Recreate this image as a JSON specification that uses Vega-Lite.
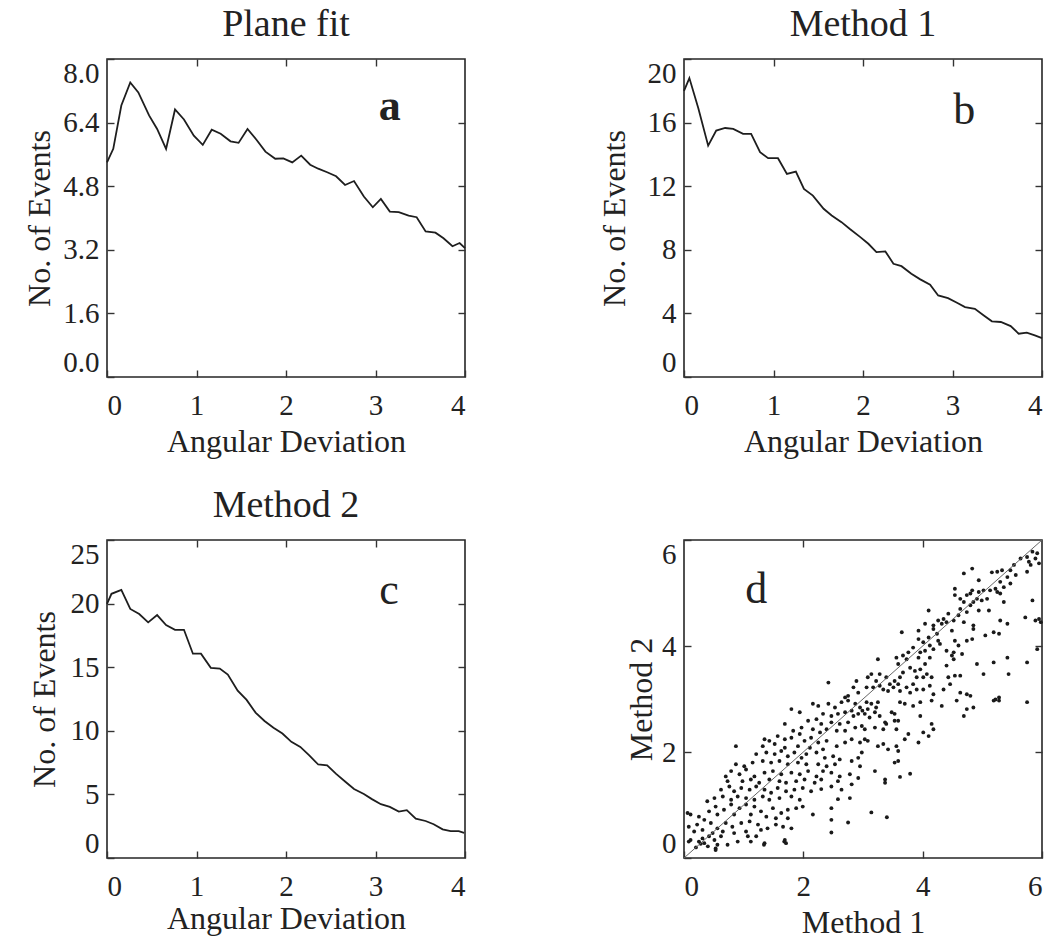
{
  "$schema": "https://vega.github.io/schema/vega-lite/v6.json",
  "padding": {"left": 22, "top": 5, "right": 2, "bottom": 0},
  "background": "white",
  "config": {
    "font": "Liberation Serif",
    "view": {"stroke": "#262626", "strokeWidth": 1.6},
    "axis": {
      "domain": false, "grid": false,
      "tickSize": -7, "tickWidth": 1.4, "tickColor": "#333333",
      "labelFont": "Liberation Serif", "titleFont": "Liberation Serif",
      "labelFontSize": 29, "titleFontSize": 32,
      "labelColor": "#222222", "titleColor": "#222222", "titleFontWeight": "normal"
    },
    "axisX": {"labelPadding": 21, "titleBaseline": "alphabetic"},
    "axisY": {"labelPadding": 15, "labelFlush": true, "titleBaseline": "alphabetic"},
    "title": {"font": "Liberation Serif", "fontSize": 38, "fontWeight": "normal", "color": "#222222", "baseline": "alphabetic", "offset": 14}
  },
  "columns": 2,
  "bounds": "flush",
  "spacing": {"row": 163, "column": 219},
  "concat": [
    {
      "width": 358, "height": 318,
      "title": {"text": "Plane fit"},
      "data": {"values": [
        {"deviation": 0, "events": 5.40}, {"deviation": 0.07, "events": 5.74}, {"deviation": 0.16, "events": 6.83},
        {"deviation": 0.26, "events": 7.41}, {"deviation": 0.35, "events": 7.16}, {"deviation": 0.47, "events": 6.58},
        {"deviation": 0.56, "events": 6.24}, {"deviation": 0.66, "events": 5.74}, {"deviation": 0.76, "events": 6.73},
        {"deviation": 0.86, "events": 6.48}, {"deviation": 0.97, "events": 6.07}, {"deviation": 1.07, "events": 5.84},
        {"deviation": 1.17, "events": 6.22}, {"deviation": 1.27, "events": 6.12}, {"deviation": 1.38, "events": 5.93},
        {"deviation": 1.47, "events": 5.89}, {"deviation": 1.57, "events": 6.24}, {"deviation": 1.67, "events": 5.97},
        {"deviation": 1.77, "events": 5.67}, {"deviation": 1.88, "events": 5.49}, {"deviation": 1.97, "events": 5.50},
        {"deviation": 2.07, "events": 5.40}, {"deviation": 2.17, "events": 5.57}, {"deviation": 2.27, "events": 5.34},
        {"deviation": 2.36, "events": 5.24}, {"deviation": 2.46, "events": 5.15}, {"deviation": 2.56, "events": 5.05},
        {"deviation": 2.66, "events": 4.83}, {"deviation": 2.76, "events": 4.93}, {"deviation": 2.87, "events": 4.54},
        {"deviation": 2.97, "events": 4.27}, {"deviation": 3.06, "events": 4.48}, {"deviation": 3.16, "events": 4.16},
        {"deviation": 3.26, "events": 4.15}, {"deviation": 3.37, "events": 4.06}, {"deviation": 3.46, "events": 4.02},
        {"deviation": 3.56, "events": 3.66}, {"deviation": 3.67, "events": 3.63}, {"deviation": 3.76, "events": 3.49},
        {"deviation": 3.86, "events": 3.29}, {"deviation": 3.94, "events": 3.37}, {"deviation": 4.0, "events": 3.24}
      ]},
      "layer": [
        {
          "mark": {"type": "line", "color": "#1e1e1e", "strokeWidth": 1.8},
          "encoding": {
            "x": {"field": "deviation", "type": "quantitative", "scale": {"domain": [0, 4], "nice": false, "zero": false},
                  "axis": {"values": [0, 1, 2, 3, 4], "title": "Angular Deviation", "titleX": 179, "titleY": 74}},
            "y": {"field": "events", "type": "quantitative", "scale": {"domain": [0, 8], "nice": false},
                  "axis": {"values": [0, 1.6, 3.2, 4.8, 6.4, 8], "format": ".1f", "title": "No. of Events", "titleX": -58, "titleY": 159}}
          }
        },
        {
          "mark": {"type": "line", "opacity": 0},
          "encoding": {
            "x": {"field": "deviation", "type": "quantitative", "axis": {"orient": "top", "values": [1, 2, 3], "labels": false, "title": null}},
            "y": {"field": "events", "type": "quantitative", "axis": {"orient": "right", "values": [1.6, 3.2, 4.8, 6.4], "labels": false, "title": null}}
          }
        },
        {
          "data": {"values": [{"label": "a"}]},
          "mark": {"type": "text", "font": "Liberation Serif", "fontSize": 44, "fontWeight": "bold", "align": "center", "baseline": "alphabetic", "color": "#222222"},
          "encoding": {
            "x": {"datum": 3.16, "type": "quantitative", "axis": null},
            "y": {"datum": 6.47, "type": "quantitative", "axis": null},
            "text": {"field": "label"}
          }
        }
      ],
      "resolve": {"axis": {"x": "independent", "y": "independent"}}
    },
    {
      "width": 358, "height": 318,
      "title": {"text": "Method 1"},
      "data": {"values": [
        {"deviation": 0, "events": 18.0}, {"deviation": 0.06, "events": 18.8}, {"deviation": 0.16, "events": 16.9},
        {"deviation": 0.27, "events": 14.55}, {"deviation": 0.36, "events": 15.5}, {"deviation": 0.46, "events": 15.66},
        {"deviation": 0.55, "events": 15.6}, {"deviation": 0.66, "events": 15.29}, {"deviation": 0.75, "events": 15.29},
        {"deviation": 0.85, "events": 14.14}, {"deviation": 0.94, "events": 13.76}, {"deviation": 1.05, "events": 13.76},
        {"deviation": 1.15, "events": 12.77}, {"deviation": 1.25, "events": 12.92}, {"deviation": 1.34, "events": 11.83},
        {"deviation": 1.44, "events": 11.41}, {"deviation": 1.56, "events": 10.58}, {"deviation": 1.65, "events": 10.16},
        {"deviation": 1.76, "events": 9.74}, {"deviation": 1.85, "events": 9.32}, {"deviation": 1.97, "events": 8.80},
        {"deviation": 2.06, "events": 8.38}, {"deviation": 2.15, "events": 7.85}, {"deviation": 2.25, "events": 7.90},
        {"deviation": 2.34, "events": 7.12}, {"deviation": 2.43, "events": 6.97}, {"deviation": 2.54, "events": 6.49},
        {"deviation": 2.64, "events": 6.14}, {"deviation": 2.75, "events": 5.80}, {"deviation": 2.84, "events": 5.13},
        {"deviation": 2.95, "events": 4.96}, {"deviation": 3.05, "events": 4.67}, {"deviation": 3.14, "events": 4.40},
        {"deviation": 3.25, "events": 4.29}, {"deviation": 3.35, "events": 3.87}, {"deviation": 3.44, "events": 3.50},
        {"deviation": 3.54, "events": 3.46}, {"deviation": 3.65, "events": 3.20}, {"deviation": 3.74, "events": 2.72},
        {"deviation": 3.83, "events": 2.79}, {"deviation": 3.92, "events": 2.62}, {"deviation": 4.0, "events": 2.45}
      ]},
      "layer": [
        {
          "mark": {"type": "line", "color": "#1e1e1e", "strokeWidth": 1.8},
          "encoding": {
            "x": {"field": "deviation", "type": "quantitative", "scale": {"domain": [0, 4], "nice": false, "zero": false},
                  "axis": {"values": [0, 1, 2, 3, 4], "title": "Angular Deviation", "titleX": 179, "titleY": 74}},
            "y": {"field": "events", "type": "quantitative", "scale": {"domain": [0, 20], "nice": false},
                  "axis": {"values": [0, 4, 8, 12, 16, 20], "title": "No. of Events", "titleX": -60, "titleY": 159}}
          }
        },
        {
          "mark": {"type": "line", "opacity": 0},
          "encoding": {
            "x": {"field": "deviation", "type": "quantitative", "axis": {"orient": "top", "values": [1, 2, 3], "labels": false, "title": null}},
            "y": {"field": "events", "type": "quantitative", "axis": {"orient": "right", "values": [4, 8, 12, 16], "labels": false, "title": null}}
          }
        },
        {
          "data": {"values": [{"label": "b"}]},
          "mark": {"type": "text", "font": "Liberation Serif", "fontSize": 44, "align": "center", "baseline": "alphabetic", "color": "#222222"},
          "encoding": {
            "x": {"datum": 3.13, "type": "quantitative", "axis": null},
            "y": {"datum": 15.9, "type": "quantitative", "axis": null},
            "text": {"field": "label"}
          }
        }
      ],
      "resolve": {"axis": {"x": "independent", "y": "independent"}}
    },
    {
      "width": 358, "height": 318,
      "title": {"text": "Method 2"},
      "data": {"values": [
        {"deviation": 0, "events": 19.97}, {"deviation": 0.05, "events": 20.77}, {"deviation": 0.16, "events": 21.08},
        {"deviation": 0.26, "events": 19.58}, {"deviation": 0.36, "events": 19.18}, {"deviation": 0.46, "events": 18.52},
        {"deviation": 0.56, "events": 19.10}, {"deviation": 0.66, "events": 18.31}, {"deviation": 0.76, "events": 17.94},
        {"deviation": 0.86, "events": 17.94}, {"deviation": 0.96, "events": 16.06}, {"deviation": 1.05, "events": 16.06},
        {"deviation": 1.16, "events": 14.95}, {"deviation": 1.26, "events": 14.89}, {"deviation": 1.35, "events": 14.42},
        {"deviation": 1.46, "events": 13.15}, {"deviation": 1.56, "events": 12.43}, {"deviation": 1.66, "events": 11.43},
        {"deviation": 1.76, "events": 10.77}, {"deviation": 1.86, "events": 10.24}, {"deviation": 1.96, "events": 9.79},
        {"deviation": 2.06, "events": 9.13}, {"deviation": 2.16, "events": 8.73}, {"deviation": 2.26, "events": 8.07},
        {"deviation": 2.36, "events": 7.35}, {"deviation": 2.46, "events": 7.28}, {"deviation": 2.56, "events": 6.61},
        {"deviation": 2.66, "events": 6.01}, {"deviation": 2.76, "events": 5.42}, {"deviation": 2.87, "events": 5.03},
        {"deviation": 2.96, "events": 4.63}, {"deviation": 3.06, "events": 4.23}, {"deviation": 3.16, "events": 4.02},
        {"deviation": 3.26, "events": 3.65}, {"deviation": 3.35, "events": 3.76}, {"deviation": 3.45, "events": 3.10},
        {"deviation": 3.56, "events": 2.91}, {"deviation": 3.65, "events": 2.65}, {"deviation": 3.75, "events": 2.25},
        {"deviation": 3.84, "events": 2.12}, {"deviation": 3.93, "events": 2.12}, {"deviation": 3.99, "events": 1.98}
      ]},
      "layer": [
        {
          "mark": {"type": "line", "color": "#1e1e1e", "strokeWidth": 1.8},
          "encoding": {
            "x": {"field": "deviation", "type": "quantitative", "scale": {"domain": [0, 4], "nice": false, "zero": false},
                  "axis": {"values": [0, 1, 2, 3, 4], "title": "Angular Deviation", "titleX": 179, "titleY": 70}},
            "y": {"field": "events", "type": "quantitative", "scale": {"domain": [0, 25], "nice": false},
                  "axis": {"values": [0, 5, 10, 15, 20, 25], "title": "No. of Events", "titleX": -53, "titleY": 159}}
          }
        },
        {
          "mark": {"type": "line", "opacity": 0},
          "encoding": {
            "x": {"field": "deviation", "type": "quantitative", "axis": {"orient": "top", "values": [1, 2, 3], "labels": false, "title": null}},
            "y": {"field": "events", "type": "quantitative", "axis": {"orient": "right", "values": [5, 10, 15, 20], "labels": false, "title": null}}
          }
        },
        {
          "data": {"values": [{"label": "c"}]},
          "mark": {"type": "text", "font": "Liberation Serif", "fontSize": 44, "align": "center", "baseline": "alphabetic", "color": "#222222"},
          "encoding": {
            "x": {"datum": 3.15, "type": "quantitative", "axis": null},
            "y": {"datum": 19.95, "type": "quantitative", "axis": null},
            "text": {"field": "label"}
          }
        }
      ],
      "resolve": {"axis": {"x": "independent", "y": "independent"}}
    },
    {
      "width": 358, "height": 318,
      "data": {"values": [
        {"m1":5.84,"m2":5.78},{"m1":5.92,"m2":5.75},{"m1":5.75,"m2":5.68},{"m1":5.78,"m2":5.59},{"m1":5.64,"m2":5.65},{"m1":5.53,"m2":5.53},{"m1":5.47,"m2":5.43},{"m1":5.56,"m2":5.34},{"m1":5.42,"m2":5.30},{"m1":5.33,"m2":5.43},
        {"m1":5.25,"m2":5.40},{"m1":5.16,"m2":5.39},{"m1":5.30,"m2":5.21},{"m1":5.47,"m2":5.18},{"m1":5.36,"m2":5.11},{"m1":5.22,"m2":5.08},{"m1":5.13,"m2":5.05},{"m1":5.02,"m2":5.05},{"m1":4.94,"m2":5.24},{"m1":4.83,"m2":5.46},
        {"m1":4.69,"m2":5.37},{"m1":5.75,"m2":5.40},{"m1":5.81,"m2":5.53},{"m1":5.89,"m2":5.65},{"m1":5.95,"m2":5.56},{"m1":5.84,"m2":4.86},{"m1":5.72,"m2":4.54},{"m1":5.89,"m2":4.48},{"m1":5.95,"m2":4.51},{"m1":5.98,"m2":4.45},
        {"m1":5.92,"m2":3.94},{"m1":5.42,"m2":3.78},{"m1":5.75,"m2":3.69},{"m1":5.44,"m2":3.47},{"m1":5.19,"m2":3.69},{"m1":5.02,"m2":3.47},{"m1":4.91,"m2":3.66},{"m1":5.28,"m2":3.03},{"m1":5.22,"m2":2.99},{"m1":4.91,"m2":4.89},
        {"m1":4.80,"m2":4.99},{"m1":4.54,"m2":5.08},{"m1":4.54,"m2":4.96},{"m1":4.69,"m2":4.83},{"m1":4.80,"m2":4.77},{"m1":4.85,"m2":4.83},{"m1":4.94,"m2":4.67},{"m1":4.74,"m2":4.64},{"m1":4.63,"m2":4.70},{"m1":5.11,"m2":4.67},
        {"m1":5.36,"m2":4.83},{"m1":5.30,"m2":4.48},{"m1":5.42,"m2":4.42},{"m1":5.19,"m2":4.26},{"m1":5.28,"m2":4.23},{"m1":5.05,"m2":4.20},{"m1":4.85,"m2":4.39},{"m1":4.85,"m2":4.32},{"m1":4.83,"m2":4.13},{"m1":4.74,"m2":4.10},
        {"m1":4.49,"m2":4.29},{"m1":4.40,"m2":4.45},{"m1":4.32,"m2":4.42},{"m1":4.52,"m2":4.48},{"m1":4.18,"m2":4.39},{"m1":4.10,"m2":4.16},{"m1":4.18,"m2":4.32},{"m1":4.24,"m2":4.23},{"m1":4.26,"m2":4.10},{"m1":4.12,"m2":4.01},
        {"m1":4.01,"m2":4.07},{"m1":3.93,"m2":4.13},{"m1":3.96,"m2":3.88},{"m1":3.84,"m2":3.97},{"m1":3.76,"m2":3.88},{"m1":3.67,"m2":3.82},{"m1":3.56,"m2":3.78},{"m1":3.59,"m2":3.66},{"m1":3.73,"m2":3.75},{"m1":3.93,"m2":3.78},
        {"m1":4.04,"m2":3.91},{"m1":4.18,"m2":3.94},{"m1":4.29,"m2":4.04},{"m1":4.40,"m2":3.91},{"m1":4.54,"m2":4.10},{"m1":4.60,"m2":4.01},{"m1":4.52,"m2":3.88},{"m1":4.49,"m2":3.82},{"m1":4.66,"m2":3.85},{"m1":4.52,"m2":3.75},
        {"m1":4.40,"m2":3.63},{"m1":4.12,"m2":3.78},{"m1":4.04,"m2":3.66},{"m1":3.96,"m2":3.56},{"m1":3.87,"m2":3.53},{"m1":3.79,"m2":3.59},{"m1":3.67,"m2":3.50},{"m1":3.62,"m2":3.41},{"m1":3.53,"m2":3.34},{"m1":3.45,"m2":3.28},
        {"m1":3.39,"m2":3.41},{"m1":3.28,"m2":3.47},{"m1":3.22,"m2":3.34},{"m1":3.14,"m2":3.47},{"m1":3.08,"m2":3.41},{"m1":3.06,"m2":3.22},{"m1":3.17,"m2":3.22},{"m1":3.28,"m2":3.25},{"m1":3.34,"m2":3.18},{"m1":3.42,"m2":3.15},
        {"m1":3.51,"m2":3.22},{"m1":3.59,"m2":3.28},{"m1":3.62,"m2":3.15},{"m1":3.73,"m2":3.22},{"m1":3.84,"m2":3.28},{"m1":3.90,"m2":3.41},{"m1":4.01,"m2":3.41},{"m1":4.07,"m2":3.47},{"m1":4.15,"m2":3.41},{"m1":4.12,"m2":3.25},
        {"m1":4.01,"m2":3.18},{"m1":3.90,"m2":3.18},{"m1":3.79,"m2":3.12},{"m1":4.18,"m2":3.09},{"m1":4.43,"m2":3.41},{"m1":4.54,"m2":3.44},{"m1":4.63,"m2":3.44},{"m1":4.46,"m2":3.28},{"m1":4.35,"m2":3.18},{"m1":4.63,"m2":3.12},
        {"m1":4.74,"m2":3.09},{"m1":4.80,"m2":3.06},{"m1":3.25,"m2":3.75},{"m1":3.65,"m2":4.26},{"m1":3.93,"m2":4.29},{"m1":4.10,"m2":4.67},{"m1":4.04,"m2":4.42},{"m1":4.26,"m2":4.48},{"m1":4.35,"m2":4.51},{"m1":4.43,"m2":4.61},
        {"m1":4.60,"m2":4.58},{"m1":4.69,"m2":4.45},{"m1":4.63,"m2":4.89},{"m1":4.74,"m2":4.96},{"m1":4.83,"m2":5.05},{"m1":4.94,"m2":5.02},{"m1":4.99,"m2":4.86},{"m1":5.08,"m2":4.89},{"m1":5.25,"m2":5.02},{"m1":5.30,"m2":4.99},
        {"m1":2.16,"m2":2.91},{"m1":2.25,"m2":2.87},{"m1":2.42,"m2":2.91},{"m1":2.53,"m2":2.84},{"m1":2.64,"m2":2.94},{"m1":2.75,"m2":2.97},{"m1":2.87,"m2":2.91},{"m1":2.95,"m2":2.84},{"m1":2.81,"m2":2.78},{"m1":2.70,"m2":2.75},
        {"m1":2.58,"m2":2.72},{"m1":2.47,"m2":2.68},{"m1":2.33,"m2":2.72},{"m1":1.80,"m2":2.81},{"m1":1.94,"m2":2.75},{"m1":2.84,"m2":2.68},{"m1":2.92,"m2":2.72},{"m1":2.99,"m2":2.78},{"m1":2.08,"m2":2.59},{"m1":2.22,"m2":2.62},
        {"m1":2.30,"m2":2.53},{"m1":2.47,"m2":2.56},{"m1":2.61,"m2":2.53},{"m1":2.75,"m2":2.56},{"m1":2.87,"m2":2.46},{"m1":2.98,"m2":2.49},{"m1":2.70,"m2":2.40},{"m1":2.56,"m2":2.40},{"m1":2.39,"m2":2.43},{"m1":2.28,"m2":2.37},
        {"m1":2.16,"m2":2.43},{"m1":1.97,"m2":2.46},{"m1":1.83,"m2":2.40},{"m1":1.69,"m2":2.53},{"m1":1.57,"m2":2.30},{"m1":1.69,"m2":2.24},{"m1":1.80,"m2":2.27},{"m1":1.94,"m2":2.34},{"m1":2.02,"m2":2.21},{"m1":2.13,"m2":2.27},
        {"m1":2.25,"m2":2.18},{"m1":2.39,"m2":2.21},{"m1":2.56,"m2":2.11},{"m1":2.70,"m2":2.18},{"m1":2.81,"m2":2.24},{"m1":2.95,"m2":2.18},{"m1":1.43,"m2":2.21},{"m1":1.32,"m2":2.11},{"m1":1.52,"m2":2.15},{"m1":1.35,"m2":2.24},
        {"m1":0.87,"m2":2.11},{"m1":1.69,"m2":2.08},{"m1":1.91,"m2":2.11},{"m1":2.11,"m2":2.08},{"m1":2.33,"m2":2.05},{"m1":1.21,"m2":1.96},{"m1":1.38,"m2":1.99},{"m1":1.52,"m2":1.96},{"m1":1.63,"m2":2.02},{"m1":1.74,"m2":1.92},
        {"m1":1.85,"m2":1.99},{"m1":1.97,"m2":1.89},{"m1":2.05,"m2":1.96},{"m1":2.22,"m2":1.99},{"m1":2.36,"m2":1.89},{"m1":2.50,"m2":1.92},{"m1":2.61,"m2":1.86},{"m1":2.81,"m2":1.83},{"m1":2.92,"m2":1.89},{"m1":2.98,"m2":1.99},
        {"m1":1.15,"m2":1.80},{"m1":1.32,"m2":1.83},{"m1":1.46,"m2":1.80},{"m1":1.60,"m2":1.83},{"m1":1.74,"m2":1.77},{"m1":1.91,"m2":1.80},{"m1":2.05,"m2":1.77},{"m1":2.25,"m2":1.77},{"m1":2.39,"m2":1.73},{"m1":2.53,"m2":1.77},
        {"m1":2.95,"m2":1.73},{"m1":0.87,"m2":1.77},{"m1":1.01,"m2":1.73},{"m1":0.70,"m2":1.54},{"m1":0.79,"m2":1.64},{"m1":0.93,"m2":1.58},{"m1":1.04,"m2":1.67},{"m1":1.18,"m2":1.54},{"m1":1.35,"m2":1.61},{"m1":1.49,"m2":1.64},
        {"m1":1.63,"m2":1.58},{"m1":1.80,"m2":1.61},{"m1":1.94,"m2":1.58},{"m1":2.08,"m2":1.64},{"m1":2.22,"m2":1.54},{"m1":2.33,"m2":1.64},{"m1":2.47,"m2":1.61},{"m1":2.61,"m2":1.54},{"m1":2.78,"m2":1.58},{"m1":2.92,"m2":1.51},
        {"m1":0.73,"m2":1.45},{"m1":0.98,"m2":1.45},{"m1":1.12,"m2":1.48},{"m1":1.26,"m2":1.42},{"m1":1.43,"m2":1.48},{"m1":1.60,"m2":1.45},{"m1":1.71,"m2":1.42},{"m1":1.88,"m2":1.45},{"m1":2.02,"m2":1.48},{"m1":2.19,"m2":1.42},
        {"m1":2.30,"m2":1.48},{"m1":2.58,"m2":1.45},{"m1":0.62,"m2":1.29},{"m1":0.76,"m2":1.35},{"m1":0.84,"m2":1.26},{"m1":0.96,"m2":1.32},{"m1":1.10,"m2":1.29},{"m1":1.21,"m2":1.35},{"m1":1.35,"m2":1.29},{"m1":1.46,"m2":1.23},
        {"m1":1.57,"m2":1.32},{"m1":1.71,"m2":1.26},{"m1":1.85,"m2":1.29},{"m1":1.99,"m2":1.32},{"m1":2.13,"m2":1.26},{"m1":2.30,"m2":1.30},{"m1":2.47,"m2":1.35},{"m1":2.64,"m2":1.29},{"m1":2.81,"m2":1.39},{"m1":0.51,"m2":1.13},
        {"m1":0.65,"m2":1.16},{"m1":0.79,"m2":1.10},{"m1":0.90,"m2":1.16},{"m1":1.04,"m2":1.13},{"m1":1.18,"m2":1.10},{"m1":1.32,"m2":1.16},{"m1":1.43,"m2":1.10},{"m1":1.60,"m2":1.13},{"m1":1.80,"m2":1.16},{"m1":1.94,"m2":1.10},
        {"m1":2.58,"m2":1.11},{"m1":2.78,"m2":1.13},{"m1":0.39,"m2":1.07},{"m1":0.53,"m2":0.97},{"m1":0.67,"m2":0.91},{"m1":0.79,"m2":1.01},{"m1":0.93,"m2":0.94},{"m1":1.04,"m2":1.01},{"m1":1.18,"m2":0.97},{"m1":1.29,"m2":0.88},
        {"m1":1.49,"m2":0.94},{"m1":1.63,"m2":0.85},{"m1":1.74,"m2":0.91},{"m1":1.88,"m2":0.94},{"m1":1.99,"m2":0.97},{"m1":2.16,"m2":0.82},{"m1":2.47,"m2":0.94},{"m1":0.42,"m2":0.88},{"m1":0.56,"m2":0.82},{"m1":0.84,"m2":0.82},
        {"m1":1.12,"m2":0.82},{"m1":1.38,"m2":0.78},{"m1":1.54,"m2":0.75},{"m1":1.74,"m2":0.75},{"m1":0.06,"m2":0.85},{"m1":0.25,"m2":0.78},{"m1":0.11,"m2":0.82},{"m1":0.08,"m2":0.59},{"m1":0.22,"m2":0.63},{"m1":0.34,"m2":0.72},
        {"m1":0.45,"m2":0.66},{"m1":0.56,"m2":0.56},{"m1":0.70,"m2":0.66},{"m1":0.81,"m2":0.59},{"m1":0.96,"m2":0.66},{"m1":1.10,"m2":0.69},{"m1":1.24,"m2":0.63},{"m1":1.40,"m2":0.56},{"m1":1.54,"m2":0.63},{"m1":1.66,"m2":0.59},
        {"m1":1.80,"m2":0.56},{"m1":2.47,"m2":0.72},{"m1":2.75,"m2":0.67},{"m1":0.17,"m2":0.50},{"m1":0.31,"m2":0.53},{"m1":0.48,"m2":0.47},{"m1":0.65,"m2":0.50},{"m1":0.84,"m2":0.47},{"m1":1.04,"m2":0.50},{"m1":1.29,"m2":0.53},
        {"m1":0.11,"m2":0.34},{"m1":0.25,"m2":0.31},{"m1":0.34,"m2":0.28},{"m1":0.51,"m2":0.34},{"m1":0.62,"m2":0.41},{"m1":0.73,"m2":0.25},{"m1":0.90,"m2":0.31},{"m1":1.07,"m2":0.41},{"m1":1.21,"m2":0.41},{"m1":1.35,"m2":0.28},
        {"m1":1.69,"m2":0.34},{"m1":1.71,"m2":0.28},{"m1":2.47,"m2":0.48},{"m1":0.53,"m2":0.18},{"m1":0.56,"m2":0.25},{"m1":0.31,"m2":0.37},{"m1":0.42,"m2":0.41},
        {"m1":3.06,"m2":2.94},{"m1":3.14,"m2":2.91},{"m1":3.25,"m2":2.94},{"m1":3.08,"m2":2.81},{"m1":3.03,"m2":2.72},{"m1":3.20,"m2":2.75},{"m1":3.28,"m2":2.68},{"m1":3.11,"m2":2.65},{"m1":3.22,"m2":2.84},{"m1":3.62,"m2":2.94},
        {"m1":3.70,"m2":2.91},{"m1":3.84,"m2":2.87},{"m1":3.96,"m2":2.94},{"m1":4.15,"m2":2.97},{"m1":4.32,"m2":2.87},{"m1":4.57,"m2":2.97},{"m1":4.69,"m2":2.68},{"m1":4.74,"m2":2.81},{"m1":4.85,"m2":2.84},{"m1":5.19,"m2":2.97},
        {"m1":5.28,"m2":2.97},{"m1":5.75,"m2":2.94},{"m1":3.96,"m2":2.68},{"m1":4.15,"m2":2.53},{"m1":4.18,"m2":2.43},{"m1":4.01,"m2":2.37},{"m1":4.10,"m2":2.30},{"m1":3.76,"m2":2.34},{"m1":3.70,"m2":2.24},{"m1":3.56,"m2":2.43},
        {"m1":3.53,"m2":2.59},{"m1":3.59,"m2":2.59},{"m1":3.39,"m2":2.53},{"m1":3.34,"m2":2.43},{"m1":3.20,"m2":2.46},{"m1":3.03,"m2":2.43},{"m1":3.25,"m2":2.11},{"m1":3.34,"m2":2.15},{"m1":3.42,"m2":2.05},{"m1":3.56,"m2":2.11},
        {"m1":3.59,"m2":2.02},{"m1":3.93,"m2":2.18},{"m1":3.53,"m2":1.80},{"m1":3.59,"m2":1.83},{"m1":3.20,"m2":1.64},{"m1":3.37,"m2":1.48},{"m1":3.37,"m2":1.42},{"m1":3.62,"m2":1.53},{"m1":3.79,"m2":1.59},{"m1":3.14,"m2":0.86},
        {"m1":3.40,"m2":0.77},{"m1":3.03,"m2":2.24},{"m1":3.08,"m2":2.21},{"m1":3.48,"m2":2.75},{"m1":3.53,"m2":2.72},{"m1":3.37,"m2":2.56},
        {"m1":2.42,"m2":3.31},{"m1":2.89,"m2":3.34},{"m1":2.84,"m2":3.22},{"m1":2.92,"m2":3.12},{"m1":2.75,"m2":3.06},{"m1":2.70,"m2":3.03},
        {"m1":0.08,"m2":0.31},{"m1":0.53,"m2":0.15},{"m1":1.12,"m2":0.31},{"m1":1.34,"m2":0.25},{"m1":1.68,"m2":0.31},{"m1":0.40,"m2":0.22},{"m1":0.20,"m2":0.20},{"m1":0.28,"m2":0.27}
      ]},
      "layer": [
        {
          "mark": {"type": "circle", "color": "#1a1a1a", "size": 15, "opacity": 1},
          "encoding": {
            "x": {"field": "m1", "type": "quantitative", "scale": {"domain": [0, 6], "nice": false, "zero": false},
                  "axis": {"values": [0, 2, 4, 6], "title": "Method 1", "titleX": 179, "titleY": 74}},
            "y": {"field": "m2", "type": "quantitative", "scale": {"domain": [0, 6], "nice": false},
                  "axis": {"values": [0, 2, 4, 6], "title": "Method 2", "titleX": -33, "titleY": 159}}
          }
        },
        {
          "data": {"values": [{"label": "diagonal"}]},
          "mark": {"type": "rule", "color": "#666666", "strokeWidth": 1},
          "encoding": {
            "x": {"datum": 0, "type": "quantitative", "axis": {"orient": "top", "values": [2, 4], "labels": false, "title": null}},
            "x2": {"datum": 6},
            "y": {"datum": 0, "type": "quantitative", "axis": {"orient": "right", "values": [2, 4], "labels": false, "title": null}},
            "y2": {"datum": 6}
          }
        },
        {
          "data": {"values": [{"label": "d"}]},
          "mark": {"type": "text", "font": "Liberation Serif", "fontSize": 44, "align": "center", "baseline": "alphabetic", "color": "#222222"},
          "encoding": {
            "x": {"datum": 1.21, "type": "quantitative", "axis": null},
            "y": {"datum": 4.82, "type": "quantitative", "axis": null},
            "text": {"field": "label"}
          }
        }
      ],
      "resolve": {"axis": {"x": "independent", "y": "independent"}}
    }
  ]
}
